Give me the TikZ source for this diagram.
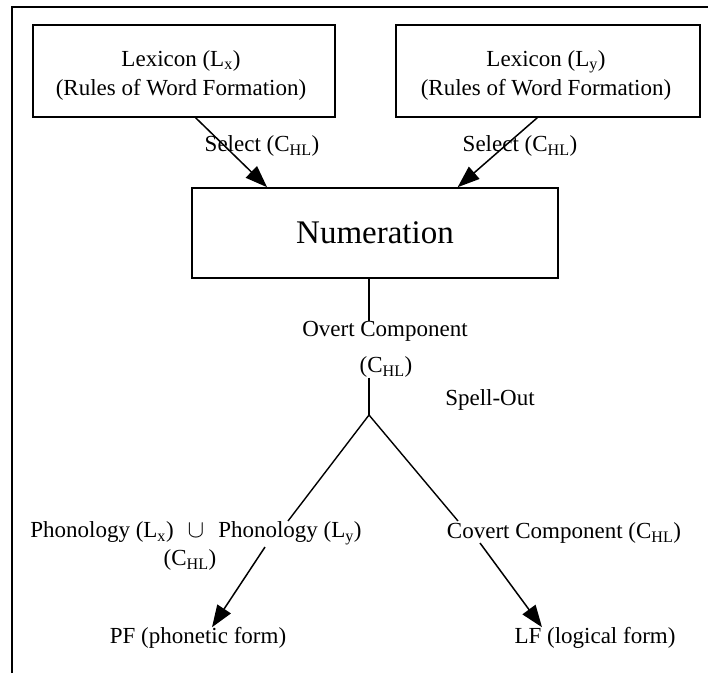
\documentclass[tikz,border=0pt]{standalone}
\usepackage{fontspec}
\setmainfont{Liberation Serif}
\usepackage{tikz}
\usetikzlibrary{positioning,arrows.meta}

\begin{document}
\begin{tikzpicture}[x=1pt,y=-1pt,
    box/.style={draw, line width=1.6pt, align=center, inner sep=0pt},
    lbl/.style={inner sep=0pt, font=\fontsize{23}{25}\selectfont},
    arr/.style={line width=1.5pt, -{Triangle[length=22pt,width=16pt]}},
    ln/.style={line width=1.4pt}]
\useasboundingbox (0,0) rectangle (708,673);

% Frame (only top and left edges show)
\draw[line width=1.6pt] (12,673) -- (12,7) -- (708,7);

% Lexicon boxes
\node[box, minimum width=302pt, minimum height=92pt] (lexx) at (184,71) {};
\node[box, minimum width=304pt, minimum height=92pt] (lexy) at (548,71) {};
\node[lbl, align=center, font=\fontsize{23}{29}\selectfont] (lexxtxt) at (181,75)
    {Lexicon (L\textsubscript{x})\\(Rules of Word Formation)};
\node[lbl, align=center, font=\fontsize{23}{29}\selectfont] (lexytxt) at (546,75)
    {Lexicon (L\textsubscript{y})\\(Rules of Word Formation)};

% Numeration
\node[box, minimum width=366pt, minimum height=90pt, font=\fontsize{33}{36}\selectfont]
    (num) at (375,233) {Numeration};

% Select arrows
\node[lbl] (selx) at (262,146) {Select (C\textsubscript{HL})};
\node[lbl] (sely) at (520,146) {Select (C\textsubscript{HL})};
\draw[arr] (lexx.-76) -- (num.157);
\draw[arr] (lexy.-103) -- (num.29);

% Overt component and Spell-Out
\coordinate (split) at (369,415);
\node[lbl] (overt) at (385,331) {Overt Component};
\node[lbl] (overtchl) at (386,367) {(C\textsubscript{HL})};
\node[lbl] (spell) at (490,400) {Spell-Out};
\draw[ln] (num.south -| split) -- (overt.north -| split);
\draw[ln] (overtchl.south -| split) -- (split);

% Branches
\node[lbl] (phon) at (196,533) {Phonology (L\textsubscript{x})\hspace{14pt}$\cup$\hspace{14pt}Phonology (L\textsubscript{y})};
\node[lbl] (phonchl) at (190,560) {(C\textsubscript{HL})};
\node[lbl] (covert) at (564,533) {Covert Component (C\textsubscript{HL})};
\coordinate (lend) at (288,521);
\coordinate (rend) at (458,521);
\draw[ln] (split) -- (lend);
\draw[ln] (split) -- (rend);

% Interface levels
\node[lbl] (pf) at (198,638) {PF (phonetic form)};
\node[lbl] (lf) at (595,638) {LF (logical form)};
\coordinate (pfstart) at (265,547);
\coordinate (lfstart) at (480,543);
\draw[arr] (pfstart) -- (pf.north -| 212,0);
\draw[arr] (lfstart) -- (lf.north -| 542,0);
\end{tikzpicture}
\end{document}
